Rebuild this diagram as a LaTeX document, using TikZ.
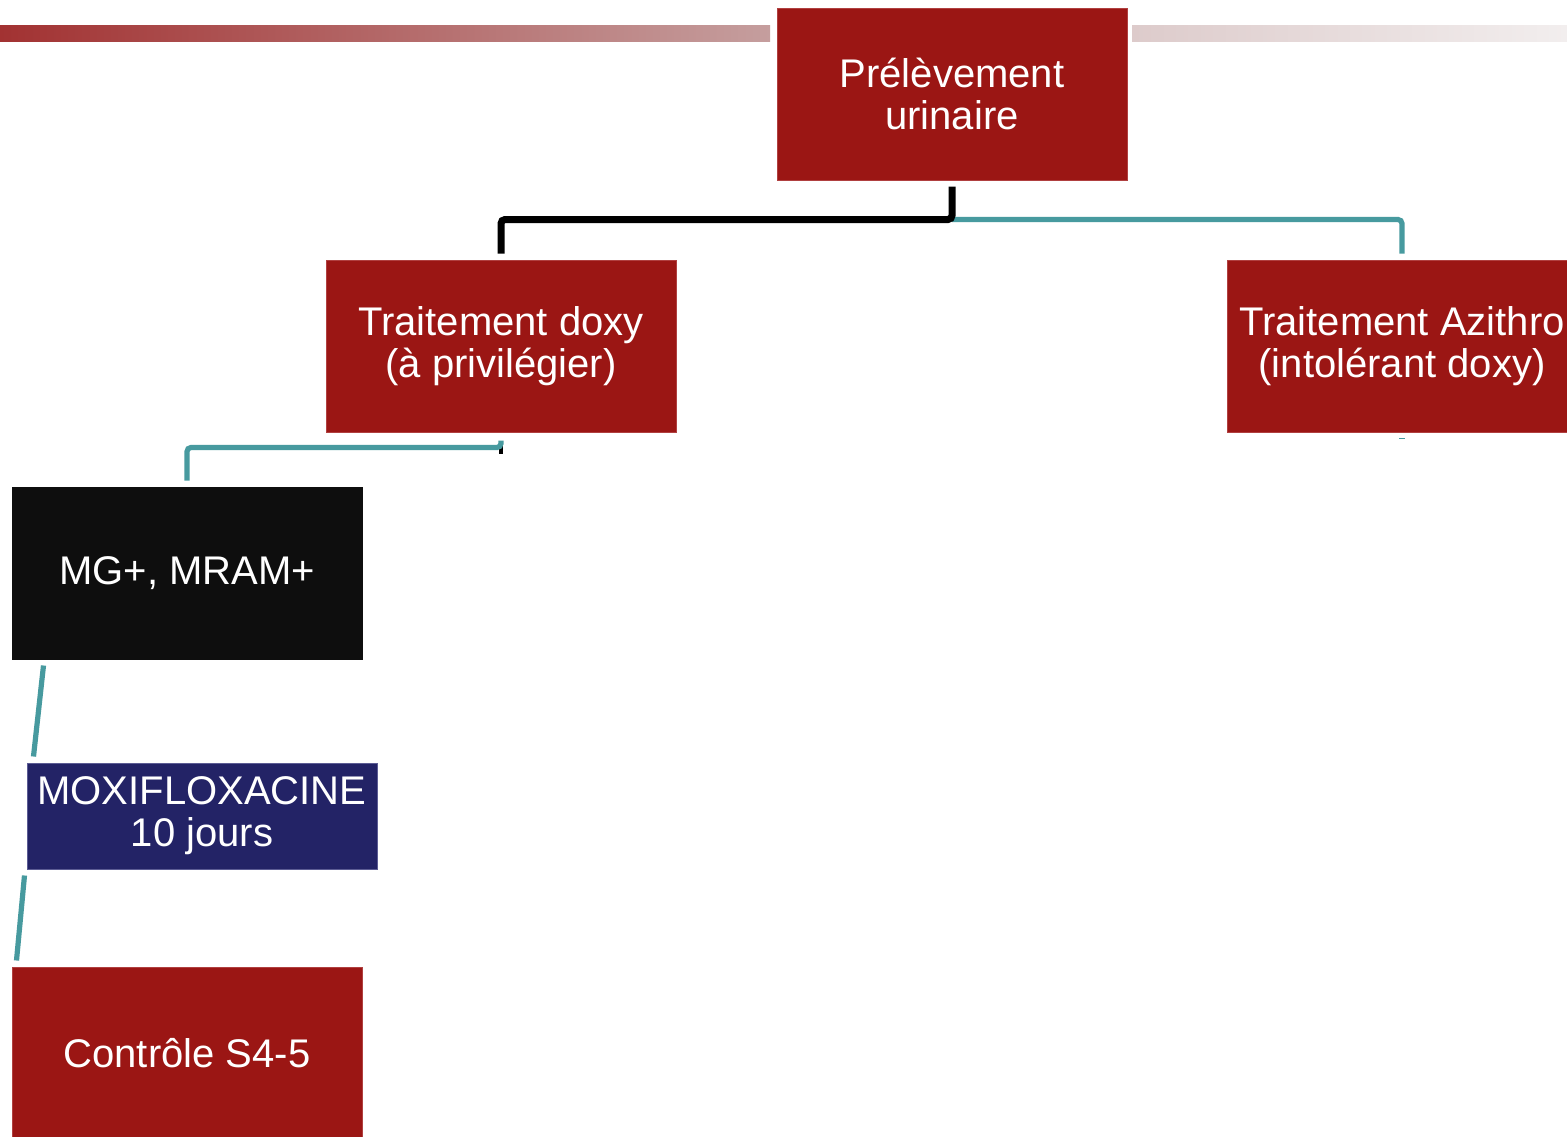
\documentclass[tikz,border=0pt]{standalone}
\usepackage{fontspec}
\setmainfont{Liberation Sans}
\usetikzlibrary{calc}
\definecolor{boxred}{HTML}{9B1614}
\definecolor{boxredline}{HTML}{B04040}
\definecolor{boxnavy}{HTML}{232366}
\definecolor{boxnavyline}{HTML}{5C5C94}
\definecolor{boxblack}{HTML}{0E0E0E}
\definecolor{linkteal}{HTML}{479A9F}
\definecolor{barA}{HTML}{A23232}
\definecolor{barB}{HTML}{C59E9E}
\definecolor{barC}{HTML}{DDCBCB}
\definecolor{barD}{HTML}{F2EEEE}
\tikzset{
  stepbox/.style={rectangle, inner sep=0pt, minimum width=175pt, minimum height=86pt,
    text=white, align=center, font=\fontsize{20}{21}\selectfont, line width=0.5pt},
  redbox/.style={stepbox, fill=boxred, draw=boxredline},
  blackbox/.style={stepbox, fill=boxblack, draw=boxblack},
  navybox/.style={stepbox, fill=boxnavy, draw=boxnavyline, minimum height=53pt},
  tealline/.style={draw=linkteal, line width=2.6pt, rounded corners=2pt},
  blackline/.style={draw=black, line width=3.5pt, rounded corners=2pt},
}
\begin{document}
\begin{tikzpicture}[x=0.5pt, y=-0.5pt]
  \clip (0,0) rectangle (1567,1136);
  \fill[white] (0,0) rectangle (1567,1136);

  % header bars
  \shade[left color=barA, right color=barB] (0,25) rectangle (770,41);
  \shade[left color=barC, right color=barD] (1132,25) rectangle (1567,41);

  % boxes
  \node[redbox] (pre) at (952,94) {Prélèvement\\urinaire};
  \node[redbox] (doxy) at (501,346) {Traitement doxy\\(à privilégier)};
  \node[redbox] (azi) at (1402,346) {Traitement Azithro\\(intolérant doxy)};
  \node[blackbox] (mg) at (187,573) {MG+, MRAM+};
  \node[navybox] (moxi) at (202,816) {MOXIFLOXACINE\\10 jours};
  \node[redbox] (ctrl) at (187,1053) {Contrôle S4-5};

  % connectors
  \coordinate (j1) at ($(pre.south)+(0,39)$);
  \draw[tealline] (j1) -| ([yshift=3pt]azi.north);
  \draw[blackline] ([yshift=-3pt]pre.south) -- (j1) -| ([yshift=3pt]doxy.north);

  \coordinate (j2) at ($(doxy.south)+(0,15)$);
  \draw[black, line width=2.2pt] ($(j2)+(0,-2)$) -- ++(0,8);
  \draw[tealline] ([yshift=-4pt]doxy.south) -- (j2) -| ([yshift=3pt]mg.north);

  \draw[tealline, rounded corners=0pt] ($(mg.south west)+(32,6)$) -- ($(moxi.north west)+(7,-6)$);
  \draw[tealline, rounded corners=0pt] ($(moxi.south west)+(-2,6)$) -- ($(ctrl.north west)+(5,-6)$);
  \draw[linkteal, line width=0.8pt] ($(azi.south)+(-3,6)$) -- ++(6,0);
\end{tikzpicture}
\end{document}
